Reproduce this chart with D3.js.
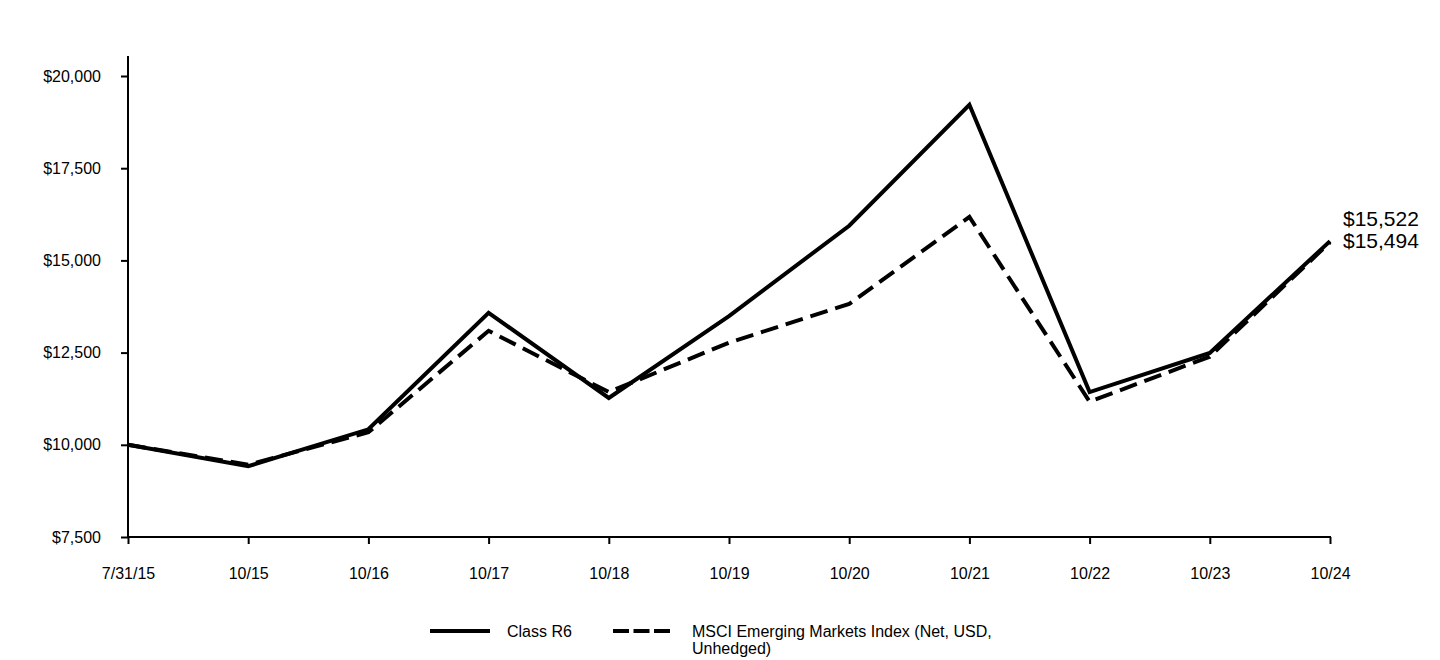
<!DOCTYPE html>
<html><head><meta charset="utf-8">
<script src="https://cdn.jsdelivr.net/npm/d3@7"></script>
<style>body{margin:0;background:#fff}svg{font-family:"Liberation Sans",Arial,sans-serif}</style>
</head><body><svg id="c" width="1440" height="660"></svg>
<script>
const categories = ["7/31/15","10/15","10/16","10/17","10/18","10/19","10/20","10/21","10/22","10/23","10/24"];
const classR6 = [10000,9420,10420,13580,11270,13490,15940,19220,11430,12490,15522];
const msci = [10000,9460,10340,13090,11430,12770,13820,16180,11170,12390,15494];
const yTicks = [7500,10000,12500,15000,17500,20000];
const seriesNames = ["Class R6","MSCI Emerging Markets Index (Net, USD, Unhedged)"];

const svg = d3.select("#c");
const x = d3.scalePoint().domain(categories).range([128,1330]);
const y = d3.scaleLinear().domain([7500,20000]).range([537,76]);
const fmt = v => "$" + d3.format(",")(v);

// axes
const ya = svg.append("g").attr("transform","translate(128,0)")
  .call(d3.axisLeft(y).tickValues(yTicks).tickFormat(fmt).tickSize(7).tickPadding(20));
ya.select(".domain").remove();
svg.append("line").attr("x1",128).attr("x2",128).attr("y1",y(20540)).attr("y2",538)
  .attr("stroke","#000").attr("stroke-width",2);
const xa = svg.append("g").attr("transform","translate(0,537)")
  .call(d3.axisBottom(x).tickSize(7).tickPadding(24));
xa.select(".domain").remove();
svg.append("line").attr("x1",127).attr("x2",1331).attr("y1",537).attr("y2",537)
  .attr("stroke","#000").attr("stroke-width",2);
svg.selectAll(".tick line").attr("stroke","#000").attr("stroke-width",2);
svg.selectAll(".tick text").attr("font-size",16).attr("fill","#000").attr("font-family","'Liberation Sans',Arial,sans-serif");

const line = d3.line().x((d,i)=>x(categories[i])).y(d=>y(d));
svg.append("path").datum(msci).attr("d",line).attr("fill","none")
  .attr("stroke","#000").attr("stroke-width",4).attr("stroke-dasharray","18,8").attr("stroke-linejoin","miter");
svg.append("path").datum(classR6).attr("d",line).attr("fill","none")
  .attr("stroke","#000").attr("stroke-width",4).attr("stroke-linejoin","miter");

// end labels
const lastX = x(categories[categories.length-1]);
svg.append("text").attr("x",lastX+13).attr("y",226).attr("font-size",21).text(fmt(classR6[classR6.length-1]));
svg.append("text").attr("x",lastX+13).attr("y",248).attr("font-size",21).text(fmt(msci[msci.length-1]));

// legend
const lg = svg.append("g");
lg.append("line").attr("x1",430).attr("x2",490).attr("y1",631).attr("y2",631).attr("stroke","#000").attr("stroke-width",4);
lg.append("text").attr("x",507).attr("y",637).attr("font-size",16).text(seriesNames[0]);
lg.append("line").attr("x1",613).attr("x2",670).attr("y1",631).attr("y2",631).attr("stroke","#000").attr("stroke-width",4).attr("stroke-dasharray","16,4.5");
const t2 = lg.append("text").attr("x",692).attr("y",637).attr("font-size",16);
t2.append("tspan").attr("x",692).text("MSCI Emerging Markets Index (Net, USD,");
t2.append("tspan").attr("x",692).attr("dy",17).text("Unhedged)");
</script></body></html>
